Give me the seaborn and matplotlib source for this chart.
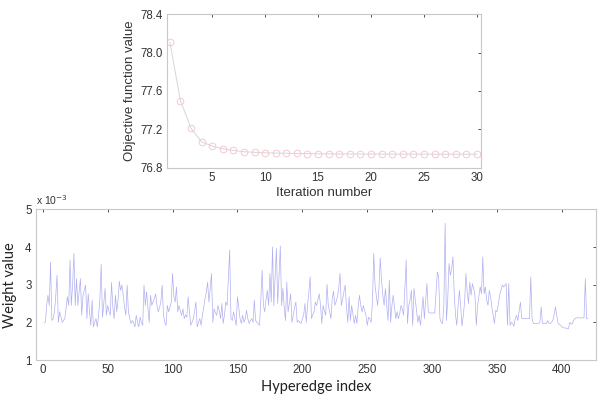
import numpy as np
import pandas as pd
import matplotlib
matplotlib.use("Agg")
import matplotlib.pyplot as plt
import seaborn as sns

# ---- data ----
iterations = list(range(1, 31))
objective = [78.11, 77.50, 77.21, 77.07, 77.025, 76.997, 76.98, 76.966, 76.96, 76.955,
             76.952, 76.950, 76.948, 76.946, 76.945, 76.944, 76.943, 76.943, 76.942, 76.942,
             76.942, 76.941, 76.941, 76.941, 76.941, 76.940, 76.940, 76.940, 76.940, 76.940]

hyperedge_index = list(range(1, 421))
weights_e3 = [
    2.00, 2.00, 2.45, 2.72, 2.45, 3.60, 2.05, 2.10, 2.28, 2.70,
    3.25, 2.00, 2.28, 2.15, 2.00, 2.05, 2.10, 2.40, 2.68, 2.45,
    3.65, 2.45, 3.00, 3.83, 2.45, 3.16, 2.45, 2.80, 3.16, 2.19,
    2.72, 2.85, 2.99, 2.10, 2.76, 2.30, 1.92, 2.59, 1.88, 2.00,
    2.10, 1.88, 2.19, 2.60, 3.54, 2.14, 2.50, 2.90, 2.19, 2.45,
    2.30, 2.19, 3.06, 2.40, 2.10, 2.72, 2.28, 2.60, 3.09, 2.85,
    2.99, 2.72, 2.40, 2.19, 2.99, 2.28, 2.10, 1.97, 2.05, 2.00,
    1.88, 2.19, 2.00, 1.88, 2.14, 2.00, 1.92, 2.99, 2.45, 2.81,
    2.40, 2.00, 2.72, 2.45, 2.55, 2.63, 2.76, 2.45, 2.28, 2.40,
    2.54, 2.99, 2.19, 2.00, 1.92, 2.45, 2.28, 2.40, 2.54, 3.30,
    2.70, 2.54, 2.94, 2.28, 2.45, 2.30, 2.19, 2.36, 2.10, 2.20,
    2.14, 2.68, 2.28, 1.92, 2.00, 2.10, 2.30, 2.54, 1.88, 2.00,
    2.10, 1.92, 2.19, 2.40, 2.63, 2.80, 3.07, 2.54, 2.90, 3.30,
    2.00, 2.36, 2.25, 2.19, 2.45, 2.30, 2.10, 2.50, 1.97, 2.20,
    2.54, 2.45, 3.20, 3.92, 2.10, 2.05, 2.28, 2.10, 1.92, 2.68,
    2.40, 2.10, 1.97, 2.19, 2.00, 2.10, 2.32, 2.10, 1.97, 2.05,
    2.10, 2.00, 2.59, 2.05, 2.00, 1.97, 1.92, 2.60, 3.39, 2.45,
    2.28, 2.60, 2.85, 2.45, 3.30, 2.54, 4.00, 2.45, 3.20, 3.96,
    2.50, 3.20, 4.03, 2.45, 2.90, 2.40, 2.05, 3.07, 2.28, 2.50,
    2.76, 2.00, 2.19, 2.40, 2.54, 2.00, 2.05, 2.00, 1.97, 2.10,
    2.19, 2.50, 2.00, 2.45, 2.80, 3.21, 2.10, 2.20, 2.28, 2.54,
    2.45, 2.60, 2.76, 2.45, 1.97, 2.45, 2.30, 2.19, 3.01, 2.45,
    2.30, 2.10, 2.63, 2.83, 2.45, 2.55, 2.68, 2.90, 3.30, 2.45,
    2.60, 2.81, 2.99, 2.40, 2.00, 2.68, 2.05, 2.45, 2.20, 1.97,
    2.19, 1.97, 2.40, 2.72, 2.45, 2.28, 2.45, 2.30, 2.19, 1.92,
    2.14, 2.10, 2.00, 2.54, 3.83, 2.99, 2.70, 2.45, 2.90, 3.71,
    3.10, 2.72, 2.45, 2.90, 2.45, 2.05, 3.12, 2.00, 2.45, 2.72,
    2.40, 2.10, 2.28, 2.10, 2.23, 2.45, 2.35, 2.19, 2.90, 3.65,
    1.97, 2.45, 2.60, 2.85, 1.92, 2.90, 2.60, 2.28, 2.00, 2.19,
    1.92, 2.30, 2.68, 2.10, 2.60, 3.03, 2.28, 2.25, 2.25, 2.25,
    2.25, 2.25, 2.80, 3.34, 3.21, 2.10, 2.00, 1.97, 2.45, 4.63,
    2.05, 2.60, 3.56, 3.25, 3.40, 3.74, 2.76, 2.20, 1.92, 2.45,
    2.85, 2.40, 1.90, 2.19, 2.54, 3.30, 2.80, 2.50, 3.07, 2.72,
    3.03, 2.90, 2.72, 1.92, 2.45, 2.70, 2.94, 2.76, 3.74, 2.76,
    2.94, 2.60, 2.45, 2.85, 2.68, 2.40, 2.19, 1.97, 2.32, 2.28,
    2.50, 2.72, 2.85, 2.99, 2.94, 2.98, 3.03, 1.92, 3.03, 1.92,
    2.00, 1.97, 1.90, 2.10, 2.19, 2.05, 2.30, 2.54, 2.10, 2.10,
    2.10, 2.10, 2.10, 2.10, 2.10, 3.21, 2.10, 1.97, 1.97, 1.97,
    1.97, 1.97, 2.00, 2.41, 1.97, 1.97, 1.97, 1.97, 2.05, 1.97,
    1.97, 2.00, 2.05, 2.20, 2.41, 2.19, 1.97, 1.95, 1.92, 1.88,
    1.86, 1.85, 1.85, 1.84, 1.83, 2.00, 1.96, 1.96, 2.05, 2.10,
    2.12, 2.12, 2.12, 2.12, 2.12, 2.12, 2.12, 3.16, 2.10, 2.10,
]

top_xticks = [5, 10, 15, 20, 25, 30]
top_yticks = [76.8, 77.2, 77.6, 78.0, 78.4]
bot_xticks = [0, 50, 100, 150, 200, 250, 300, 350, 400]
bot_yticks = [1, 2, 3, 4, 5]

df_obj = pd.DataFrame({"Iteration": iterations, "Objective": objective})
df_w = pd.DataFrame({"Index": hyperedge_index, "Weight": weights_e3})

sns.set_theme(style="white")
plt.rcParams["font.family"] = ["Liberation Sans", "DejaVu Sans"]

fig = plt.figure(figsize=(6.06, 4.05), dpi=100)
ax1 = fig.add_axes([0.275, 0.586, 0.519, 0.379])
ax2 = fig.add_axes([0.059, 0.111, 0.924, 0.372])

sns.lineplot(data=df_obj, x="Iteration", y="Objective", ax=ax1,
             color="#d6d6d6", linewidth=0.7, marker="o", markersize=4.8,
             markerfacecolor="none", markeredgecolor="#f6c8d0", markeredgewidth=0.7)
sns.lineplot(data=df_w, x="Index", y="Weight", ax=ax2,
             color="#b0b0f2", linewidth=0.5)

ax1.set_xlim(0.7, 30.4)
ax1.set_ylim(76.8, 78.4)
ax1.set_xticks(top_xticks)
ax1.set_yticks(top_yticks)
ax1.set_yticklabels([f"{v:.1f}" for v in top_yticks])
ax1.set_xlabel("Iteration number", fontsize=9.5, color="#333333", labelpad=2)
ax1.set_ylabel("Objective function value", fontsize=9.5, color="#333333", labelpad=3)

ax2.set_xlim(-5.4, 426)
ax2.set_ylim(1, 5)
ax2.set_xticks(bot_xticks)
ax2.set_yticks(bot_yticks)
ax2.set_xlabel("Hyperedge index", fontsize=10.5, color="#222222", family=["Lato", "DejaVu Sans"], labelpad=3)
ax2.set_ylabel("Weight value", fontsize=10.5, color="#222222", family=["Lato", "DejaVu Sans"], labelpad=6)
ax2.text(0.0, 1.015, r"x 10$^{-3}$", transform=ax2.transAxes, fontsize=7.5,
         color="#333333", ha="left", va="bottom")

for ax in (ax1, ax2):
    for s in ax.spines.values():
        s.set_color("#c8c8c8")
        s.set_linewidth(0.8)
    ax.tick_params(direction="in", length=2.5, width=0.6, colors="#333333",
                   labelsize=8.3, top=True, right=True, pad=3)
    ax.grid(False)

fig.savefig("out.png", dpi=100)
